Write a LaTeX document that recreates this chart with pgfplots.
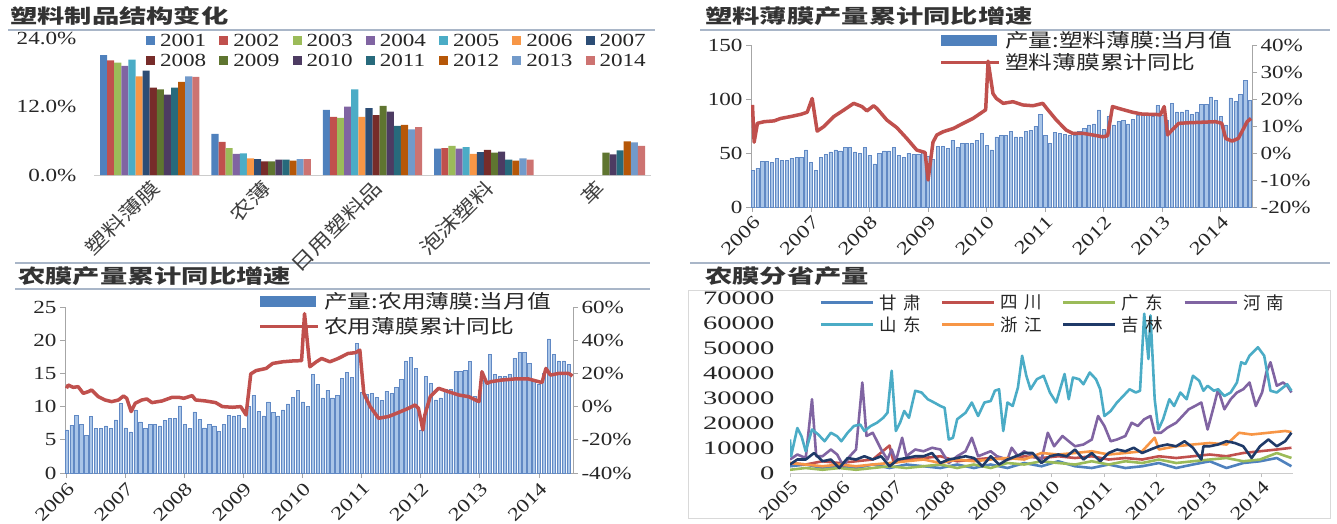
\documentclass[border=0pt]{standalone}
\usepackage{fontspec}
\setmainfont[FakeStretch=1.25]{Liberation Serif}
\newfontfamily\serifw[FakeStretch=1.5]{Liberation Serif}
\newfontfamily\cjk[FakeStretch=1.4]{Noto Sans CJK SC}
\newfontfamily\cjkl[FakeStretch=1.25]{Noto Sans CJK SC}
\newfontfamily\cjkn{Noto Sans CJK SC}
\usepackage{pgfplots}
\pgfplotsset{compat=1.18}
\definecolor{c01}{HTML}{4F81BD}
\definecolor{c02}{HTML}{C0504D}
\definecolor{c03}{HTML}{9BBB59}
\definecolor{c04}{HTML}{8064A2}
\definecolor{c05}{HTML}{4BACC6}
\definecolor{c06}{HTML}{F79646}
\definecolor{c07}{HTML}{2C4D75}
\definecolor{c08}{HTML}{772C2A}
\definecolor{c09}{HTML}{5F7530}
\definecolor{c10}{HTML}{4D3B62}
\definecolor{c11}{HTML}{276A7C}
\definecolor{c12}{HTML}{B65708}
\definecolor{c13}{HTML}{729ACA}
\definecolor{c14}{HTML}{CD7371}
\definecolor{jl}{HTML}{1F3A68}
\definecolor{sep}{HTML}{A9B6C8}
\definecolor{txt}{HTML}{262626}
\definecolor{axg}{HTML}{A6A6A6}
\definecolor{barb}{HTML}{A9C5E8}
\definecolor{bard}{HTML}{6189C4}
\definecolor{lred}{HTML}{C0504D}
\newcommand\tf{\fontsize{18.5}{20}\selectfont}
\newcommand\tfw{\serifw\fontsize{19}{20}\selectfont}
\newcommand\cf{\cjkl\fontsize{19}{21}\selectfont}
\newcommand\cfn{\cjkn\fontsize{17.5}{19}\selectfont}
\newcommand\cft{\cjk\bfseries\fontsize{19.5}{21}\selectfont}
\pgfplotsset{
  every axis/.append style={/pgf/number format/assume math mode=true,
    tick label style={font=\tf, text=txt}, legend cell align=left},
}
\begin{document}
\begin{tikzpicture}
% ---------- titles and separators ----------
\draw[sep, line width=2pt] (8pt,-30pt) -- (655pt,-30pt);
\draw[sep, line width=2pt] (700pt,-30pt) -- (1330pt,-30pt);
\draw[sep, line width=2pt] (15pt,-263pt) -- (650pt,-263pt);
\draw[sep, line width=2pt] (15pt,-289pt) -- (650pt,-289pt);
\draw[sep, line width=2pt] (690pt,-263pt) -- (1330pt,-263pt);
\draw[black!15, line width=1pt] (688pt,-290pt) rectangle (1330pt,-518pt);
\node[anchor=west, font=\cft, text=black!80, inner sep=0pt] at (10pt,-16pt) {塑料制品结构变化};
\node[anchor=west, font=\cft, text=black!80, inner sep=0pt] at (705pt,-16pt) {塑料薄膜产量累计同比增速};
\node[anchor=west, font=\cft, text=black!80, inner sep=0pt] at (18pt,-276pt) {农膜产量累计同比增速};
\node[anchor=west, font=\cft, text=black!80, inner sep=0pt] at (705pt,-276pt) {农膜分省产量};

% ---------- panel 1 ----------
\begin{axis}[at={(94pt,-175pt)}, anchor=south west, scale only axis,
  width=557pt, height=137pt, ymin=0, ymax=24, xmin=-0.5, xmax=4.5,
  ytick={0,12,24}, yticklabels={0.0\%,12.0\%,24.0\%},
  yticklabel style={xshift=-14pt},
  xtick={0,1,2,3,4}, xticklabels={塑料薄膜,农薄,日用塑料品,泡沫塑料,革},
  xticklabel style={rotate=45, anchor=north east, font=\cf, text=black!75, inner sep=2pt},
  axis x line*=bottom, axis y line*=left,
  y axis line style={draw=none}, x axis line style={draw=black!20, line width=1pt, -},
  major tick length=0pt,
  ybar=0pt, bar width=7.1pt,
  legend columns=7,
  legend style={at={(1.0,1.06)}, anchor=north east, draw=none, fill=none,
    font=\tf, text=txt, row sep=2pt,
    /tikz/every odd column/.append style={column sep=3pt},
    /tikz/every even column/.append style={column sep=11pt}},
  legend image code/.code={\fill[#1] (0pt,-4.5pt) rectangle (9pt,4.5pt);},
]
\addplot[fill=c01, draw=none] coordinates {(0,21.0)(1,7.2)(2,11.4)(3,4.6)}; \addlegendentry{2001}
\addplot[fill=c02, draw=none] coordinates {(0,20.1)(1,5.8)(2,10.2)(3,4.7)}; \addlegendentry{2002}
\addplot[fill=c03, draw=none] coordinates {(0,19.7)(1,4.7)(2,10.0)(3,5.1)}; \addlegendentry{2003}
\addplot[fill=c04, draw=none] coordinates {(0,19.1)(1,3.7)(2,12.0)(3,4.6)}; \addlegendentry{2004}
\addplot[fill=c05, draw=none] coordinates {(0,20.2)(1,3.8)(2,15.0)(3,4.9)}; \addlegendentry{2005}
\addplot[fill=c06, draw=none] coordinates {(0,17.3)(1,2.9)(2,10.2)(3,3.7)}; \addlegendentry{2006}
\addplot[fill=c07, draw=none] coordinates {(0,18.3)(1,2.8)(2,11.7)(3,4.0)}; \addlegendentry{2007}
\addplot[fill=c08, draw=none] coordinates {(0,15.3)(1,2.4)(2,10.5)(3,4.4)}; \addlegendentry{2008}
\addplot[fill=c09, draw=none] coordinates {(0,15.0)(1,2.4)(2,12.1)(3,3.9)(4,3.9)}; \addlegendentry{2009}
\addplot[fill=c10, draw=none] coordinates {(0,14.1)(1,2.7)(2,11.1)(3,4.1)(4,3.6)}; \addlegendentry{2010}
\addplot[fill=c11, draw=none] coordinates {(0,15.3)(1,2.7)(2,8.6)(3,2.7)(4,4.3)}; \addlegendentry{2011}
\addplot[fill=c12, draw=none] coordinates {(0,16.3)(1,2.5)(2,8.8)(3,2.5)(4,5.9)}; \addlegendentry{2012}
\addplot[fill=c13, draw=none] coordinates {(0,17.3)(1,2.8)(2,8.0)(3,2.9)(4,5.7)}; \addlegendentry{2013}
\addplot[fill=c14, draw=none] coordinates {(0,17.2)(1,2.8)(2,8.4)(3,2.7)(4,5.1)}; \addlegendentry{2014}
\end{axis}

% ---------- panel 2 ----------
\begin{axis}[at={(751pt,-207pt)}, anchor=south west, scale only axis,
  width=501pt, height=162pt, xmin=-0.3, xmax=102.4, ymin=0, ymax=150,
  ytick={0,50,100,150}, yticklabels={0,50,100,150},
  xtick={0,12,...,96}, xticklabels={2006,2007,2008,2009,2010,2011,2012,2013,2014},
  xticklabel style={rotate=45, anchor=north east, inner sep=2pt},
  axis x line*=bottom, axis y line*=left,
  axis line style={draw=axg, line width=1pt, -},
  tick align=outside, major tick length=5pt, tick style={draw=axg, line width=1pt},
]
\addplot[ybar, bar width=3.2pt, fill=barb, draw=bard, line width=0.5pt] coordinates {
(0,34)(1,36)(2,42)(3,42)(4,41)(5,45)(6,43)(7,43)(8,45)(9,46)(10,46)(11,53)
(12,41)(13,34)(14,46)(15,49)(16,51)(17,53)(18,52)(19,55)(20,55)(21,51)(22,50)(23,55)
(24,48)(25,40)(26,50)(27,52)(28,52)(29,55)(30,48)(31,46)(32,50)(33,49)(34,49)(35,52)
(36,47)(37,44)(38,56)(39,56)(40,54)(41,62)(42,55)(43,59)(44,59)(45,59)(46,62)(47,68)
(48,57)(49,53)(50,65)(51,66)(52,66)(53,70)(54,65)(55,65)(56,70)(57,71)(58,75)(59,86)
(60,66)(61,59)(62,69)(63,68)(64,67)(65,66)(66,66)(67,70)(68,73)(69,76)(70,77)(71,90)
(72,72)(73,84)(74,76)(75,79)(76,80)(77,77)(78,81)(79,85)(80,85)(81,85)(82,84)(83,94)
(84,85)(85,80)(86,96)(87,88)(88,88)(89,90)(90,86)(91,88)(92,95)(93,95)(94,102)(95,99)
(96,84)(97,76)(98,101)(99,98)(100,104)(101,117)(102,99)};
\end{axis}
\begin{axis}[at={(751pt,-207pt)}, anchor=south west, scale only axis,
  width=501pt, height=162pt, xmin=-0.3, xmax=102.4, ymin=-20, ymax=40,
  ytick={-20,-10,0,10,20,30,40}, yticklabels={-20\%,-10\%,0\%,10\%,20\%,30\%,40\%},
  axis x line=none, axis y line*=right,
  axis line style={draw=axg, line width=1pt, -},
  tick align=outside, major tick length=5pt, tick style={draw=axg, line width=1pt},
  legend style={at={(0.37,1.11)}, anchor=north west, draw=none, fill=none,
    font=\cf, text=txt, row sep=1pt,
    /tikz/every odd column/.append style={column sep=2pt}},
]
\addlegendimage{legend image code/.code={\fill[c01] (0pt,-5pt) rectangle (55pt,5pt);}}
\addlegendentry{产量:塑料薄膜:当月值}
\addplot[lred, line width=3.5pt, line join=round,
  legend image code/.code={\draw[lred, line width=3.5pt] (0pt,0pt) -- (58pt,0pt);}] coordinates {
(0,17.8)(0.34,4)(1.02,11)(2.38,11.6)(4.43,11.9)(5.78,12.8)(7.82,13.5)(9.86,14.3)(11.22,15.1)
(12.24,20.2)(13.26,8.1)(14.63,9.8)(16.67,13.5)(18.71,15.9)(20.75,18.4)(22.44,17.2)(23.46,15.6)
(24.83,17.5)(25.51,16.5)(27.55,12.2)(29.59,9.4)(31.63,5.4)(33.67,1.1)(35.38,0.2)(36.0,-10)
(37.0,4)(37.8,6.7)(39.1,7.9)(41.2,9.1)(43.2,11)(45.2,12.8)(47.8,16)(48.3,34)(49.3,22)(50.0,20.2)
(51.4,18.4)(53.4,19)(55.4,17.8)(57.5,17.5)(59.5,18.4)(60.6,15.9)(62.3,12.2)(64.3,8.5)(65.6,7.3)
(67.7,7.3)(69.7,6.7)(71.8,6.0)(72.8,6.4)(73.8,17.2)(75.5,16.3)(77.9,15.1)(79.9,14.4)(82.7,14.3)
(83.6,14.1)(84.4,17.2)(85.1,6.7)(85.7,7.9)(87.4,11)(89.4,11.2)(92.2,11.4)(94.9,11.6)(96.2,11)
(97.0,5.4)(98.3,4.4)(99.6,5.4)(101.4,11.6)(102.2,12.8)};
\addlegendentry{塑料薄膜累计同比}
\end{axis}

% ---------- panel 3 ----------
\begin{axis}[at={(65pt,-473pt)}, anchor=south west, scale only axis,
  width=508pt, height=166pt, xmin=-0.3, xmax=102.9, ymin=0, ymax=25,
  ytick={0,5,10,15,20,25}, yticklabels={0,5,10,15,20,25},
  xtick={0,12,...,96}, xticklabels={2006,2007,2008,2009,2010,2011,2012,2013,2014},
  xticklabel style={rotate=45, anchor=north east, inner sep=2pt},
  axis x line*=bottom, axis y line*=left,
  axis line style={draw=axg, line width=1pt, -},
  tick align=outside, major tick length=5pt, tick style={draw=axg, line width=1pt},
]
\addplot[ybar, bar width=3.2pt, fill=barb, draw=bard, line width=0.5pt] coordinates {
(0,6.5)(1,7.2)(2,8.7)(3,7.3)(4,5.7)(5,8.5)(6,6.7)(7,6.7)(8,7.1)(9,6.7)(10,8.0)(11,10.5)
(12,6.8)(13,6.2)(14,9.5)(15,7.7)(16,6.7)(17,7.3)(18,7.3)(19,7.1)(20,7.9)(21,8.2)(22,8.2)(23,10.1)
(24,7.3)(25,6.7)(26,9.2)(27,8.1)(28,6.8)(29,7.3)(30,7.1)(31,6.3)(32,7.3)(33,8.7)(34,8.6)(35,8.7)
(36,6.7)(37,10.0)(38,11.7)(39,9.3)(40,8.6)(41,10.7)(42,9.1)(43,8.6)(44,9.5)(45,10.4)(46,11.4)(47,12.4)
(48,10.7)(49,10.0)(50,14.9)(51,13.3)(52,11.3)(53,12.5)(54,11.3)(55,11.7)(56,14.3)(57,15.1)(58,14.4)(59,19.5)
(60,12.2)(61,11.8)(62,12.0)(63,11.4)(64,10.9)(65,12.3)(66,12.0)(67,12.9)(68,14.1)(69,16.9)(70,17.4)(71,15.8)
(72,6.5)(73,14.6)(74,13.5)(75,11.0)(76,11.3)(77,12.6)(78,12.6)(79,15.3)(80,15.3)(81,15.5)(82,16.8)(83,11.5)
(84,12.5)(85,14.0)(86,17.9)(87,14.8)(88,14.5)(89,14.6)(90,14.9)(91,17.3)(92,18.2)(93,18.2)(94,16.5)(95,14.0)
(96,13.3)(97,15.0)(98,20.2)(99,17.9)(100,16.9)(101,16.9)(102,16.4)};
\end{axis}
\begin{axis}[at={(65pt,-473pt)}, anchor=south west, scale only axis,
  width=508pt, height=166pt, xmin=-0.3, xmax=102.9, ymin=-40, ymax=60,
  ytick={-40,-20,0,20,40,60}, yticklabels={-40\%,-20\%,0\%,20\%,40\%,60\%},
  axis x line=none, axis y line*=right,
  axis line style={draw=axg, line width=1pt, -},
  tick align=outside, major tick length=5pt, tick style={draw=axg, line width=1pt},
  legend style={at={(0.375,1.115)}, anchor=north west, draw=none, fill=none,
    font=\cf, text=txt, row sep=4pt,
    /tikz/every odd column/.append style={column sep=2pt}},
]
\addlegendimage{legend image code/.code={\fill[c01] (0pt,-5pt) rectangle (55pt,5pt);}}
\addlegendentry{产量:农用薄膜:当月值}
\addplot[lred, line width=3.5pt, line join=round,
  legend image code/.code={\draw[lred, line width=3.5pt] (0pt,0pt) -- (58pt,0pt);}] coordinates {
(0,11)(0.34,13)(1.36,11.6)(2.38,12)(3.4,8)(4.43,9)(5.1,10)(6.47,6)(7.82,4)(9.19,3)(10.56,4)(11.58,6.4)
(12.24,5)(13.14,-3)(13.96,2)(15.32,4)(16.34,4.6)(17.36,2.4)(19.42,3.4)(21.46,5.6)(22.82,5.6)(23.84,5)
(24.86,6)(25.55,6.6)(26.23,4)(28.27,3.4)(30.31,2.4)(31.68,0)(33.72,-0.4)(35.4,0)(36.48,-5)(37.44,19.7)
(38.52,21.7)(40.56,23)(41.88,26)(43.92,27)(45.96,27.5)(47.76,27.7)(48.36,56)(49.44,24)(50.76,27)
(51.84,29)(53.5,27)(55.2,29)(57.2,32)(58.7,32.5)(59.6,34)(60.4,8)(61.7,0)(63.4,-7)(65.4,-6)(67.4,-3.6)
(69.5,-1)(70.8,1)(71.5,-1)(72.4,-14)(72.8,-5)(73.9,6)(75.6,11)(77.6,9)(79.7,7)(81.7,6)(83.8,3)
(84.4,21)(85.4,14)(86.2,15)(88.4,16)(91.2,16.7)(93.8,16.7)(96.6,14.5)(97.4,23)(98.3,19)(100,20)
(102,20)(102.8,18.5)};
\addlegendentry{农用薄膜累计同比}
\end{axis}

% ---------- panel 4 ----------
\begin{axis}[at={(790pt,-473pt)}, anchor=south west, scale only axis,
  width=503pt, height=175pt, xmin=2005, xmax=2014.6, ymin=0, ymax=70000,
  scaled y ticks=false,
  ytick={0,10000,20000,30000,40000,50000,60000,70000},
  yticklabels={0,10000,20000,30000,40000,50000,60000,70000},
  yticklabel style={font=\tfw, xshift=-8pt},
  xtick={2005,2006,...,2014}, xticklabels={2005,2006,2007,2008,2009,2010,2011,2012,2013,2014},
  xticklabel style={rotate=45, anchor=north east, inner sep=2pt},
  axis x line*=bottom, axis y line*=left,
  y axis line style={draw=none}, x axis line style={draw=black!20, line width=1pt, -},
  tick align=outside, major tick length=4pt, tick style={draw=black!25, line width=1pt},
  ytick style={draw=none},
  legend columns=4,
  legend style={at={(0.052,1.045)}, anchor=north west, draw=none, fill=none,
    font=\cfn, text=txt, row sep=2pt,
    /tikz/every odd column/.append style={column sep=3pt},
    /tikz/every even column/.append style={column sep=18pt}},
  legend image code/.code={\draw[#1, line width=3.2pt] (0pt,0pt) -- (52pt,0pt);},
  every axis plot/.append style={line width=2.6pt, line join=round},
]
\addplot[c01] coordinates {(2005.00,2700)(2005.30,3400)(2005.62,2000)(2005.94,2700)(2006.26,2000)(2006.58,3400)(2006.90,2000)(2007.22,3400)(2007.55,2700)(2007.87,2000)(2008.19,3400)(2008.51,2000)(2008.83,3400)(2009.15,2000)(2009.47,4000)(2009.80,2700)(2010.12,4700)(2010.44,2700)(2010.76,2000)(2011.08,3400)(2011.40,2000)(2011.72,2700)(2012.04,4000)(2012.37,2000)(2012.69,3400)(2013.01,4700)(2013.33,2000)(2013.65,4000)(2013.97,4700)(2014.29,6000)(2014.57,2700)};
\addlegendentry{甘\kern6pt 肃}
\addplot[c02] coordinates {(2005.00,4000)(2005.30,3400)(2005.62,4700)(2005.94,4000)(2006.26,4700)(2006.58,5400)(2006.90,11000)(2006.98,4000)(2007.22,5400)(2007.55,6000)(2007.87,6700)(2008.19,4700)(2008.51,5400)(2008.83,6000)(2009.15,5400)(2009.47,6700)(2009.80,6000)(2010.12,6700)(2010.44,6000)(2010.76,6700)(2011.08,5400)(2011.40,6000)(2011.72,5400)(2012.04,6700)(2012.37,6000)(2012.69,6700)(2013.01,7400)(2013.33,6700)(2013.65,8000)(2013.97,8700)(2014.29,9400)(2014.57,10100)};
\addlegendentry{四\kern6pt 川}
\addplot[c03] coordinates {(2005.00,1300)(2005.30,2000)(2005.62,1300)(2005.94,2000)(2006.26,1300)(2006.58,2000)(2006.90,2700)(2007.22,2000)(2007.55,2700)(2007.87,3400)(2008.19,2000)(2008.51,3400)(2008.83,2000)(2009.15,4000)(2009.47,3400)(2009.80,4700)(2010.12,4000)(2010.44,3400)(2010.76,4700)(2011.08,3400)(2011.40,4700)(2011.72,4000)(2012.04,5400)(2012.37,4000)(2012.69,4700)(2013.01,5400)(2013.33,6000)(2013.65,4700)(2013.97,5400)(2014.29,8000)(2014.57,6000)};
\addlegendentry{广\kern6pt 东}
\addplot[c04] coordinates {(2005.00,5400)(2005.14,7400)(2005.30,6000)(2005.42,29500)(2005.50,6700)(2005.62,6700)(2005.78,9400)(2005.90,7400)(2006.02,2700)(2006.14,6700)(2006.26,9400)(2006.38,36200)(2006.46,14800)(2006.58,16100)(2006.74,9400)(2006.86,5400)(2006.94,9400)(2007.02,4700)(2007.14,14100)(2007.22,6700)(2007.39,9400)(2007.55,8700)(2007.71,10100)(2007.87,9400)(2008.03,4000)(2008.19,6700)(2008.35,8700)(2008.47,14100)(2008.59,6700)(2008.83,8700)(2008.95,6700)(2009.15,5400)(2009.23,10100)(2009.35,6700)(2009.47,8700)(2009.63,6700)(2009.80,5400)(2009.92,16100)(2010.04,10700)(2010.20,14800)(2010.32,12700)(2010.44,10700)(2010.60,11400)(2010.76,13400)(2010.88,22800)(2011.00,18800)(2011.12,12700)(2011.24,13400)(2011.40,14800)(2011.52,20100)(2011.64,18800)(2011.76,21500)(2011.88,22800)(2011.96,16100)(2012.08,16100)(2012.20,18100)(2012.37,20100)(2012.49,22800)(2012.61,25500)(2012.73,26800)(2012.85,28200)(2012.97,17400)(2013.09,26800)(2013.17,33500)(2013.29,25500)(2013.41,29500)(2013.53,32200)(2013.65,33500)(2013.77,36200)(2013.89,26800)(2014.01,32200)(2014.09,40200)(2014.17,44300)(2014.29,34900)(2014.41,36200)(2014.49,34900)(2014.57,32200)};
\addlegendentry{河\kern6pt 南}
\addplot[c05] coordinates {(2005.00,13400)(2005.02,6700)(2005.14,18000)(2005.22,14700)(2005.30,8700)(2005.42,17400)(2005.54,15400)(2005.66,12700)(2005.78,16100)(2005.90,14700)(2005.98,12700)(2006.10,16100)(2006.22,18800)(2006.34,19400)(2006.42,16800)(2006.54,18800)(2006.66,20100)(2006.78,22100)(2006.86,24100)(2006.94,40900)(2007.02,16800)(2007.10,20100)(2007.18,24800)(2007.27,22100)(2007.39,32900)(2007.51,32200)(2007.63,29500)(2007.75,28200)(2007.87,26800)(2007.95,26100)(2008.03,13400)(2008.11,14100)(2008.19,21500)(2008.35,24100)(2008.47,28200)(2008.59,22800)(2008.71,28200)(2008.83,28800)(2008.91,32900)(2008.99,33500)(2009.07,16800)(2009.15,28200)(2009.25,26800)(2009.35,34200)(2009.43,46900)(2009.51,38900)(2009.59,33500)(2009.71,37500)(2009.84,38900)(2009.96,32200)(2010.08,28200)(2010.24,39600)(2010.32,29500)(2010.40,38200)(2010.52,37500)(2010.60,35500)(2010.72,40200)(2010.84,37500)(2010.92,33500)(2011.00,22800)(2011.12,24800)(2011.24,28200)(2011.36,30800)(2011.48,33500)(2011.60,32200)(2011.68,32900)(2011.76,63700)(2011.84,45600)(2011.88,63000)(2011.96,29500)(2012.03,17400)(2012.12,21500)(2012.24,29500)(2012.33,26800)(2012.45,32200)(2012.57,29500)(2012.69,38900)(2012.81,36900)(2012.89,32900)(2012.97,34900)(2013.09,32900)(2013.17,33500)(2013.29,30800)(2013.41,32200)(2013.53,36200)(2013.61,44300)(2013.69,43600)(2013.77,46900)(2013.93,50300)(2014.05,46900)(2014.17,32900)(2014.29,32200)(2014.41,34200)(2014.49,35500)(2014.57,32900)};
\addlegendentry{山\kern6pt 东}
\addplot[c06] coordinates {(2005.00,4000)(2005.30,3400)(2005.62,2700)(2005.94,3400)(2006.26,2700)(2006.58,3400)(2006.90,4000)(2007.22,4700)(2007.55,5400)(2007.87,4000)(2008.19,5400)(2008.51,4700)(2008.83,5400)(2009.15,6000)(2009.47,5400)(2009.80,8000)(2010.12,7400)(2010.44,8000)(2010.76,8700)(2011.08,7400)(2011.40,8000)(2011.72,8700)(2011.96,14100)(2012.04,9400)(2012.37,10700)(2012.69,11400)(2013.01,12000)(2013.33,11400)(2013.57,16100)(2013.81,15400)(2014.13,16100)(2014.45,16800)(2014.57,16400)};
\addlegendentry{浙\kern6pt 江}
\addplot[jl] coordinates {(2005.00,3400)(2005.14,5400)(2005.30,5400)(2005.46,8000)(2005.62,4700)(2005.78,5400)(2005.94,2000)(2006.10,6000)(2006.26,5400)(2006.42,6700)(2006.58,5400)(2006.74,6700)(2006.90,2700)(2007.06,5400)(2007.22,6000)(2007.39,6700)(2007.55,6700)(2007.71,8000)(2007.87,4000)(2008.03,5400)(2008.19,6000)(2008.35,6700)(2008.51,6000)(2008.67,2700)(2008.83,6700)(2008.99,3400)(2009.15,5400)(2009.31,6700)(2009.47,8000)(2009.63,8000)(2009.80,4000)(2009.96,6700)(2010.12,7400)(2010.28,6700)(2010.44,9400)(2010.60,5400)(2010.76,8000)(2010.92,4700)(2011.08,8000)(2011.24,9400)(2011.40,8700)(2011.56,10100)(2011.72,8000)(2011.88,9400)(2012.04,10700)(2012.20,11400)(2012.37,10700)(2012.53,12700)(2012.69,10100)(2012.85,5400)(2012.89,10700)(2013.01,10700)(2013.17,11400)(2013.33,12700)(2013.49,12000)(2013.65,10700)(2013.81,6000)(2013.97,10700)(2014.13,13400)(2014.29,10700)(2014.45,12700)(2014.57,16100)};
\addlegendentry{吉\kern6pt 林}
\end{axis}
\pgfresetboundingbox
\path (0pt,0pt) rectangle (1337pt,-523pt);
\end{tikzpicture}
\end{document}
